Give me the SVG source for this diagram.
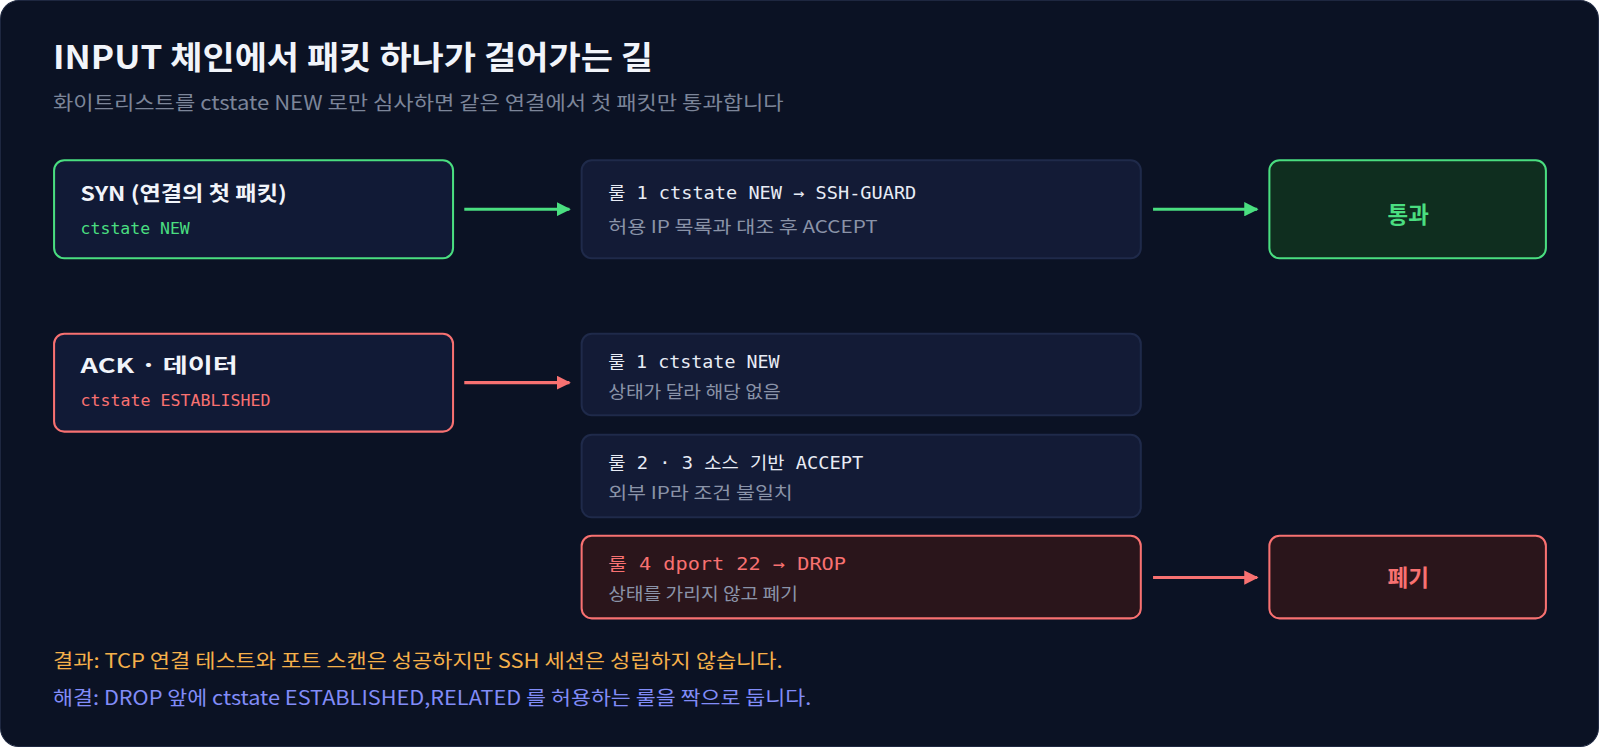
<svg xmlns="http://www.w3.org/2000/svg" width="1600" height="747" viewBox="0 0 1600 747">
<defs>
<style>
.k{font-family:"Noto Sans CJK KR","Noto Sans",sans-serif}
.m{font-family:"DejaVu Sans Mono","Noto Sans CJK KR",monospace}
.rule{fill:#131b36;stroke:#1f2a4a;stroke-width:2}
.t{fill:#e8ecf5;font-size:17px}
.s{fill:#8a93a8;font-size:17px}
</style>
<marker id="ag" viewBox="0 0 10 10" refX="9" refY="5" markerWidth="14" markerHeight="14" markerUnits="userSpaceOnUse" orient="auto"><path d="M0,0L10,5L0,10z" fill="#4ade80"/></marker>
<marker id="ar" viewBox="0 0 10 10" refX="9" refY="5" markerWidth="14" markerHeight="14" markerUnits="userSpaceOnUse" orient="auto"><path d="M0,0L10,5L0,10z" fill="#f87171"/></marker>
</defs>
<rect width="1600" height="747" fill="#ffffff"/>
<g transform="scale(1.0204)">
<rect x="0.5" y="0.5" width="1566" height="731" rx="18" fill="#0b1224" stroke="#1e2740"/>
<text class="k" x="52" y="68" font-size="31" font-weight="700" fill="#f1f4fa" textLength="588" lengthAdjust="spacingAndGlyphs">INPUT 체인에서 패킷 하나가 걸어가는 길</text>
<text class="k" x="52" y="108" font-size="19" fill="#7c8599" textLength="716" lengthAdjust="spacingAndGlyphs">화이트리스트를 ctstate NEW 로만 심사하면 같은 연결에서 첫 패킷만 통과합니다</text>

<g id="syn"><rect x="53" y="157" width="391" height="96" rx="10" fill="#111a36" stroke="#4ade80" stroke-width="2"/>
<text class="k" x="79" y="197" font-size="20" font-weight="700" fill="#f1f4fa" textLength="202" lengthAdjust="spacingAndGlyphs">SYN (연결의 첫 패킷)</text>
<text class="m" x="79" y="229" font-size="16" fill="#4ade80" textLength="107" lengthAdjust="spacingAndGlyphs">ctstate NEW</text></g>
<g id="ack"><rect x="53" y="327" width="391" height="96" rx="10" fill="#111a36" stroke="#f87171" stroke-width="2"/>
<text class="k" x="79" y="366" font-size="20" font-weight="700" fill="#f1f4fa" textLength="154" lengthAdjust="spacingAndGlyphs">ACK · 데이터</text>
<text class="m" x="79" y="398" font-size="16" fill="#f87171" textLength="186" lengthAdjust="spacingAndGlyphs">ctstate ESTABLISHED</text></g>

<g id="rule1a"><rect class="rule" x="570" y="157" width="548" height="96" rx="10"/>
<text class="m t" x="596" y="195" textLength="302" lengthAdjust="spacingAndGlyphs">룰 1 ctstate NEW → SSH-GUARD</text>
<text class="k s" x="596" y="228" textLength="264" lengthAdjust="spacingAndGlyphs">허용 IP 목록과 대조 후 ACCEPT</text></g>
<g id="rule1b"><rect class="rule" x="570" y="327" width="548" height="80" rx="10"/>
<text class="m t" x="596" y="361" textLength="168" lengthAdjust="spacingAndGlyphs">룰 1 ctstate NEW</text>
<text class="k s" x="596" y="390" textLength="169" lengthAdjust="spacingAndGlyphs">상태가 달라 해당 없음</text></g>
<g id="rule23"><rect class="rule" x="570" y="426" width="548" height="81" rx="10"/>
<text class="m t" x="596" y="460" textLength="250" lengthAdjust="spacingAndGlyphs">룰 2 · 3 소스 기반 ACCEPT</text>
<text class="k s" x="596" y="489" textLength="181" lengthAdjust="spacingAndGlyphs">외부 IP라 조건 불일치</text></g>
<g id="rule4"><rect x="570" y="525" width="548" height="81" rx="10" fill="#2a151b" stroke="#f87171" stroke-width="2"/>
<text class="m" x="596" y="559" font-size="17" fill="#f87171" textLength="233" lengthAdjust="spacingAndGlyphs">룰 4 dport 22 → DROP</text>
<text class="k s" x="596" y="588" textLength="186" lengthAdjust="spacingAndGlyphs">상태를 가리지 않고 폐기</text></g>

<g id="pass"><rect x="1244" y="157" width="271" height="96" rx="10" fill="#0f2e1f" stroke="#4ade80" stroke-width="2"/>
<text class="k" x="1380" y="219" font-size="22" font-weight="700" fill="#4ade80" text-anchor="middle">통과</text></g>
<g id="drop"><rect x="1244" y="525" width="271" height="81" rx="10" fill="#2a151b" stroke="#f87171" stroke-width="2"/>
<text class="k" x="1380" y="574" font-size="22" font-weight="700" fill="#f87171" text-anchor="middle">폐기</text></g>

<g id="connectors" stroke-width="3">
<line x1="455" y1="205" x2="558" y2="205" stroke="#4ade80" marker-end="url(#ag)"/>
<line x1="1130" y1="205" x2="1232" y2="205" stroke="#4ade80" marker-end="url(#ag)"/>
<line x1="455" y1="375" x2="558" y2="375" stroke="#f87171" marker-end="url(#ar)"/>
<line x1="1130" y1="566" x2="1232" y2="566" stroke="#f87171" marker-end="url(#ar)"/>
</g>
<text class="k" x="52" y="655" font-size="19" fill="#f5b04a" textLength="715" lengthAdjust="spacingAndGlyphs">결과: TCP 연결 테스트와 포트 스캔은 성공하지만 SSH 세션은 성립하지 않습니다.</text>
<text class="k" x="52" y="691" font-size="19" fill="#818cf8" textLength="743" lengthAdjust="spacingAndGlyphs">해결: DROP 앞에 ctstate ESTABLISHED,RELATED 를 허용하는 룰을 짝으로 둡니다.</text>
</g>
</svg>
